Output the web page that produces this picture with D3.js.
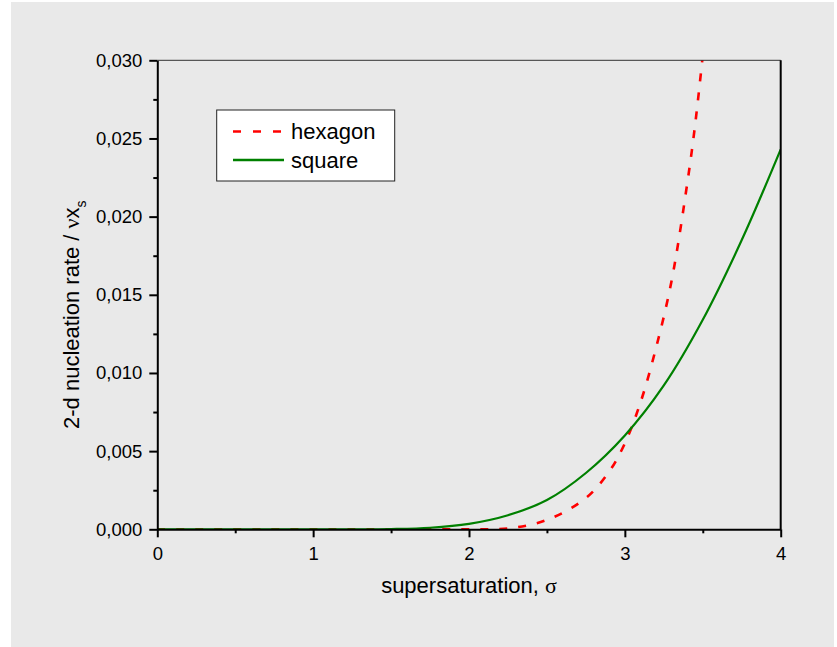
<!DOCTYPE html>
<html>
<head>
<meta charset="utf-8">
<script src="https://cdn.jsdelivr.net/npm/d3@7"></script>
<style>
  body { margin: 0; background: #fff; }
  text { font-family: Arial, "Liberation Sans", sans-serif; fill: #000; }
</style>
</head>
<body>
<svg id="chart"></svg>
<script>
// data
const sigmaHexagon = [0, 1.0, 1.5, 1.75, 2.0, 2.25, 2.5, 2.75, 2.9, 3.0, 3.1, 3.2, 3.3, 3.4, 3.45, 3.5];
const hexagon = [0, 0, 0, 0, 0.000005, 0.00006, 0.0006, 0.002, 0.0037, 0.0055, 0.0081, 0.0116, 0.0159, 0.0221, 0.0258, 0.0303];
const sigmaSquare = [0, 0.5, 1.0, 1.25, 1.5, 1.75, 2.0, 2.25, 2.5, 2.75, 3.0, 3.25, 3.5, 3.75, 4.0];
const square = [0, 0, 0, 0.000002, 0.00002, 0.0001, 0.00035, 0.0009, 0.00187, 0.0036, 0.0060, 0.0092, 0.0134, 0.0185, 0.0243];
const xTicks = [0, 1, 2, 3, 4];
const xMinor = [0.5, 1.5, 2.5, 3.5];
const yTicks = [0, 0.005, 0.010, 0.015, 0.020, 0.025, 0.030];
const yMinor = [0.0025, 0.0075, 0.0125, 0.0175, 0.0225, 0.0275];
const seriesNames = ['hexagon', 'square'];

const W = 837, H = 647;
const svg = d3.select('#chart').attr('width', W).attr('height', H);

// gray panel
svg.append('rect').attr('x', 11).attr('y', 2).attr('width', 823).attr('height', 645).attr('fill', '#e9e9e9');

const pLeft = 157.3, pRight = 780.7, pTop = 60.3, pBottom = 529.3;
const x = d3.scaleLinear().domain([0, 4]).range([pLeft, pRight]);
const y = d3.scaleLinear().domain([0, 0.030]).range([pBottom, pTop]);

const comma = d3.formatLocale({ decimal: ',', thousands: '.', grouping: [3], currency: ['', ''] }).format('.3f');

svg.append('clipPath').attr('id', 'plotclip')
  .append('rect').attr('x', pLeft).attr('y', pTop).attr('width', pRight - pLeft).attr('height', pBottom - pTop);

// curves
const line = d3.line().x(d => x(d[0])).y(d => y(Math.max(0, d[1]))).curve(d3.curveCatmullRom.alpha(0.5));
const plot = svg.append('g').attr('clip-path', 'url(#plotclip)');
plot.append('path')
  .datum(sigmaHexagon.map((s, i) => [s, hexagon[i]]))
  .attr('d', line).attr('fill', 'none').attr('stroke', '#ff0000')
  .attr('stroke-width', 2.6).attr('stroke-dasharray', '8,11');
plot.append('path')
  .datum(sigmaSquare.map((s, i) => [s, square[i]]))
  .attr('d', line).attr('fill', 'none').attr('stroke', '#008000')
  .attr('stroke-width', 2.2);

// frame top/right
svg.append('line').attr('x1', pLeft).attr('x2', pRight).attr('y1', pTop).attr('y2', pTop)
  .attr('stroke', '#333').attr('stroke-width', 1);
svg.append('line').attr('x1', pRight).attr('x2', pRight).attr('y1', pTop).attr('y2', pBottom)
  .attr('stroke', '#000').attr('stroke-width', 2);

// bottom axis
const gx = svg.append('g').attr('transform', `translate(0,${pBottom})`)
  .call(d3.axisBottom(x).tickValues(xTicks).tickSize(8).tickSizeOuter(0).tickPadding(6).tickFormat(d3.format('d')));
svg.append('g').attr('transform', `translate(0,${pBottom})`)
  .call(d3.axisBottom(x).tickValues(xMinor).tickSize(4).tickFormat(''))
  .select('.domain').remove();

// left axis
const gy = svg.append('g').attr('transform', `translate(${pLeft},0)`)
  .call(d3.axisLeft(y).tickValues(yTicks).tickSize(8).tickSizeOuter(0).tickPadding(7).tickFormat(comma));
svg.append('g').attr('transform', `translate(${pLeft},0)`)
  .call(d3.axisLeft(y).tickValues(yMinor).tickSize(4).tickFormat(''))
  .select('.domain').remove();

svg.selectAll('.domain').attr('stroke', '#000').attr('stroke-width', 2);
svg.selectAll('.tick line').attr('stroke', '#000').attr('stroke-width', 2);
svg.selectAll('.tick text').attr('font-size', 18.5).attr('font-family', 'Arial, "Liberation Sans", sans-serif').attr('fill', '#111');
gx.selectAll('.tick text').attr('dy', '0.9em');

// axis titles
const xt = svg.append('text').attr('x', (pLeft + pRight) / 2).attr('y', 593)
  .attr('text-anchor', 'middle').attr('font-size', 22);
xt.append('tspan').text('supersaturation, ');
xt.append('tspan').attr('font-family', '"Liberation Serif", "DejaVu Serif", serif').text('σ');

const yt = svg.append('text').attr('transform', 'translate(79,429) rotate(-90)')
  .attr('text-anchor', 'start').attr('font-size', 22);
yt.append('tspan').text('2-d nucleation rate / ');
yt.append('tspan').attr('font-family', '"Liberation Serif", "DejaVu Serif", serif').text('ν');
yt.append('tspan').text('x');
yt.append('tspan').attr('font-size', 14).attr('dy', 7).text('s');

// legend
const lg = svg.append('g');
lg.append('rect').attr('x', 216.7).attr('y', 110).attr('width', 178).attr('height', 71)
  .attr('fill', '#fff').attr('stroke', '#222').attr('stroke-width', 1);
const legendStyles = [
  { color: '#ff0000', dash: '8,12', width: 2.5, ly: 131.5, ty: 139 },
  { color: '#008000', dash: null, width: 2.5, ly: 160, ty: 167.5 }
];
seriesNames.forEach((name, i) => {
  const s = legendStyles[i];
  lg.append('line').attr('x1', 233).attr('x2', 284).attr('y1', s.ly).attr('y2', s.ly)
    .attr('stroke', s.color).attr('stroke-width', s.width).attr('stroke-dasharray', s.dash);
  lg.append('text').attr('x', 291).attr('y', s.ty).attr('font-size', 22).text(name);
});
</script>
</body>
</html>
